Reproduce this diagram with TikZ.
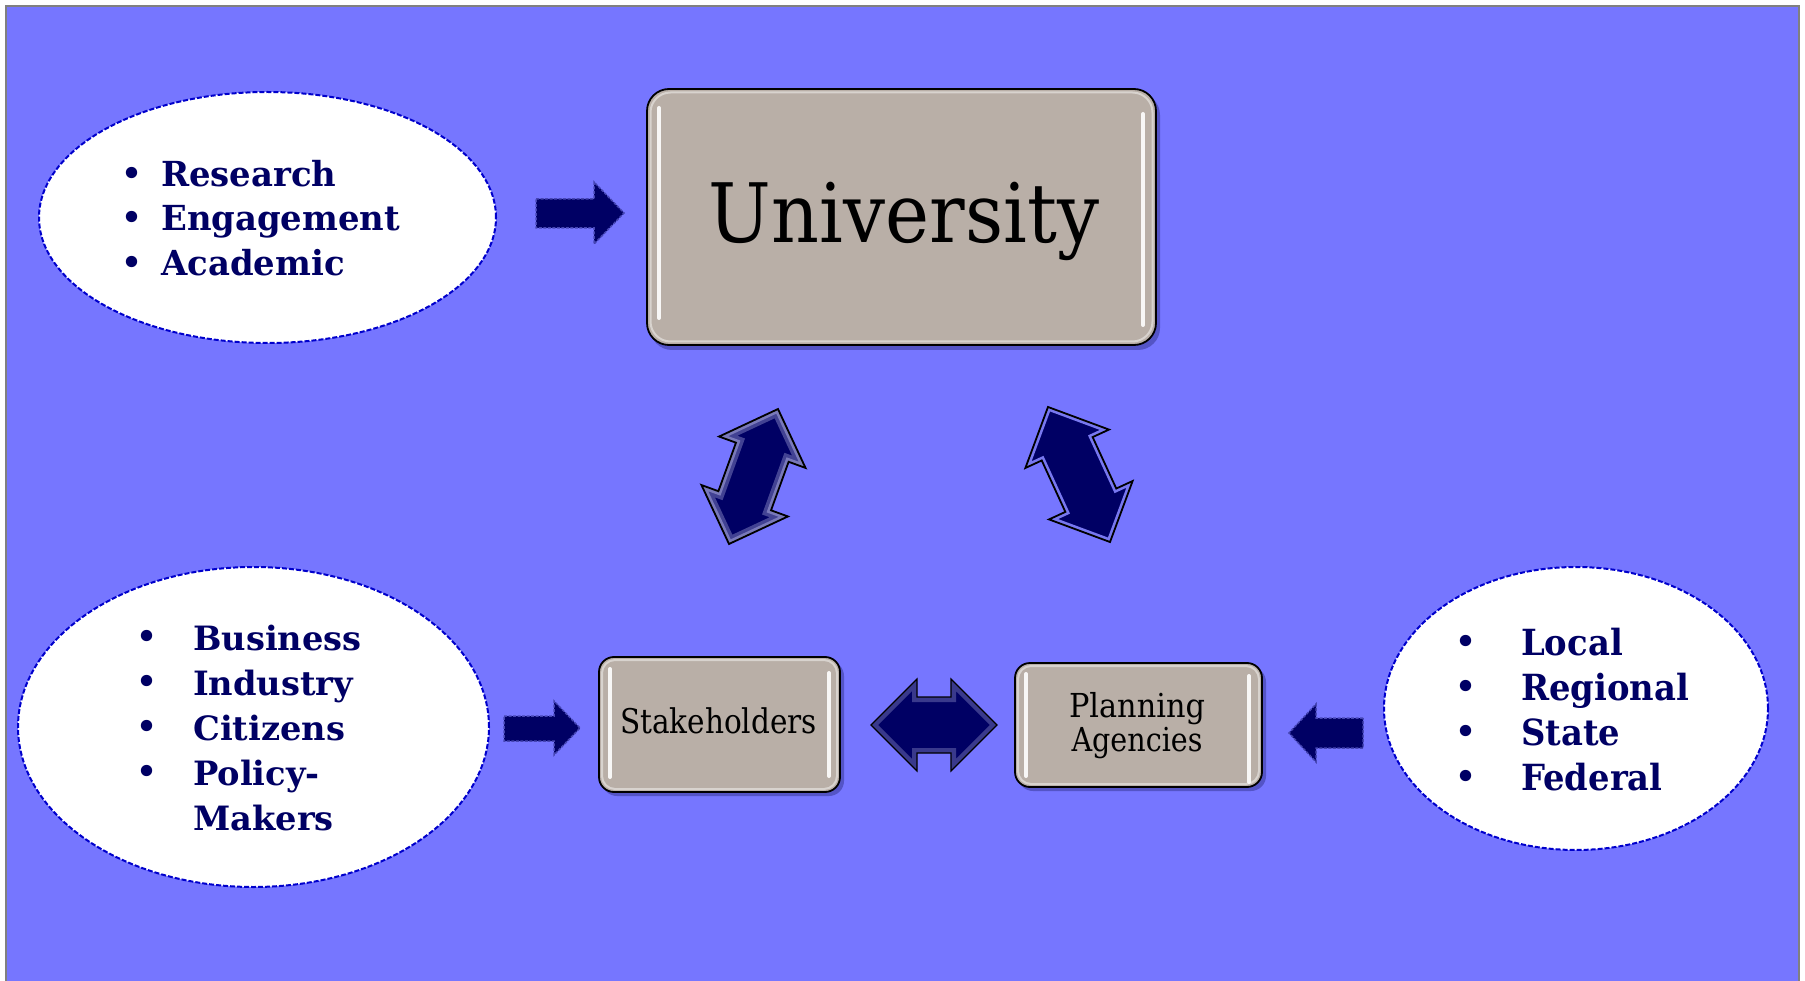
\documentclass[tikz,border=0pt]{standalone}
\usepackage{fontspec}
\setmainfont{DejaVu Serif}
\usetikzlibrary{shapes.geometric}
\definecolor{bgblue}{RGB}{118,118,255}
\definecolor{navytxt}{RGB}{0,0,100}
\definecolor{navyfill}{RGB}{0,0,100}
\definecolor{boxfill}{RGB}{185,175,167}
\definecolor{ellline}{RGB}{0,0,204}
\definecolor{shadowc}{RGB}{70,70,175}
\definecolor{dashline}{RGB}{70,70,180}
\definecolor{glowa}{RGB}{190,190,235}
\definecolor{glowb}{RGB}{120,120,240}
\newlength\wtmp
\newcommand{\dblpath}[1]{(-#1,0) -- (-#1+46,46) -- (-#1+46,28) -- (#1-46,28) -- (#1-46,46) -- (#1,0) -- (#1-46,-46) -- (#1-46,-28) -- (-#1+46,-28) -- (-#1+46,-46) -- cycle}
\tikzset{
  ell/.style={ellipse, fill=white, draw=ellline, line width=2pt, dash pattern=on 5pt off 2pt, inner sep=0pt},
  gbox/.style={rectangle, fill=boxfill, draw=black, line width=1.8pt, inner sep=0pt},
  hl/.style={white, line width=4pt, line cap=round, opacity=.9},
  rim/.style={white, line width=2pt, opacity=.45},
  shad/.style={fill=shadowc, opacity=.7},
  blockarr/.style={fill=navyfill, draw=dashline, line width=1.5pt, dash pattern=on 3pt off 1.5pt},
  itemtxt/.style={anchor=base west, inner sep=0pt, text=navytxt, font=\bfseries},
  bul/.style={anchor=center, inner sep=0pt, text=navytxt, font=\fontsize{39}{39}\selectfont},
  boxtxt/.style={anchor=base, inner sep=0pt, text=black}
}
\begin{document}
\settowidth\wtmp{\fontsize{34.5}{40}\selectfont\bfseries Engagement}%
\pgfmathsetmacro\sxA{239/\wtmp}%
\settowidth\wtmp{\fontsize{33.5}{40}\selectfont\bfseries Business}%
\pgfmathsetmacro\sxB{168.5/\wtmp}%
\settowidth\wtmp{\fontsize{36}{40}\selectfont\bfseries Regional}%
\pgfmathsetmacro\sxC{168/\wtmp}%
\begin{tikzpicture}[x=1pt,y=-1pt]
\useasboundingbox (0,0) rectangle (1805,981);
\fill[white] (0,0) rectangle (1805,981);
\fill[bgblue] (6,6) rectangle (1799,990);
\draw[gray, line width=1.5pt] (6,990) -- (6,6) -- (1799,6) -- (1799,990);

% ellipses
\node[ell, minimum width=457pt, minimum height=251pt] (e1) at (267.5,217.5) {};
\node[ell, minimum width=471pt, minimum height=320pt] (e2) at (253.5,727) {};
\node[ell, minimum width=384pt, minimum height=283pt] (e3) at (1576,708.5) {};

% top ellipse items
\foreach \t/\y [count=\i] in {Research/187,Engagement/231,Academic/276}{
  \node[bul] (b1\i) at (132,\y-10) {•};
  \node[itemtxt] (t1\i) at (161,\y) {\fontsize{34.5}{40}\selectfont\scalebox{\sxA}[1]{\t}};
}
% bottom-left items
\foreach \t/\y [count=\i] in {Business/650,Industry/695,Citizens/740,Policy-/785}{
  \node[bul] (b2\i) at (147,\y-10) {•};
  \node[itemtxt] (t2\i) at (193,\y) {\fontsize{33.5}{40}\selectfont\scalebox{\sxB}[1]{\t}};
}
\node[itemtxt] (t25) at (193,830) {\fontsize{33.5}{40}\selectfont\scalebox{\sxB}[1]{Makers}};
% right items
\foreach \t/\y [count=\i] in {Local/655,Regional/700,State/745,Federal/790}{
  \node[bul] (b3\i) at (1466,\y-10) {•};
  \node[itemtxt] (t3\i) at (1521,\y) {\fontsize{36}{40}\selectfont\scalebox{\sxC}[1]{\t}};
}

% boxes with shadows
\fill[shad, rounded corners=22pt] (650,93) rectangle (1160,350);
\node[gbox, rounded corners=22pt, minimum width=509pt, minimum height=256pt] (uni) at (901.5,217) {};
\draw[rim, rounded corners=20pt] (650.5,92.5) rectangle (1152.5,341.5);
\draw[hl] (659,108) -- (659,318);
\draw[hl] (1143,114) -- (1143,325);
\node[boxtxt] (unit) at (904,243) {\fontsize{82}{90}\selectfont\resizebox{390pt}{\height}{University}};

\fill[shad, rounded corners=15pt] (602,661) rectangle (844,796);
\node[gbox, rounded corners=15pt, minimum width=241pt, minimum height=135pt] (stk) at (719.5,724.5) {};
\draw[rim, rounded corners=13pt] (602,660) rectangle (837,789);
\draw[hl] (610,669) -- (610,777);
\draw[hl] (829,673) -- (829,776);
\node[boxtxt] (stkt) at (718.5,733) {\fontsize{34}{40}\selectfont\resizebox{197pt}{\height}{Stakeholders}};

\fill[shad, rounded corners=15pt] (1018,667) rectangle (1266,791);
\node[gbox, rounded corners=15pt, minimum width=247pt, minimum height=124pt] (pla) at (1138.5,725) {};
\draw[rim, rounded corners=13pt] (1018,666) rectangle (1259,784);
\draw[hl] (1026,674) -- (1026,776);
\draw[hl] (1249,676) -- (1249,782);
\node[boxtxt] (plat1) at (1137,717) {\fontsize{33}{40}\selectfont\resizebox{136pt}{\height}{Planning}};
\node[boxtxt] (plat2) at (1137,751) {\fontsize{33}{40}\selectfont\resizebox{131pt}{\height}{Agencies}};

% single block arrows
\path[blockarr] (536,199) -- (594,199) -- (594,182) -- (624,213) -- (594,244) -- (594,228) -- (536,228) -- cycle;
\path[blockarr] (504,716) -- (554,716) -- (554,701) -- (580,728) -- (554,755) -- (554,741) -- (504,741) -- cycle;
\path[blockarr] (1363,718) -- (1316,718) -- (1316,704) -- (1289,733) -- (1316,762) -- (1316,748) -- (1363,748) -- cycle;

% double arrows
\begin{scope}[shift={(753.5,476.5)}, rotate=70.05]
  \fill[navyfill] \dblpath{71.8};
  \begin{scope}
    \clip \dblpath{71.8};
    \draw[glowa, line width=14pt, opacity=.35] \dblpath{71.8};
    \draw[glowa, line width=7pt, opacity=.45] \dblpath{71.8};
  \end{scope}
  \draw[black, line width=1.8pt] \dblpath{71.8};
\end{scope}
\begin{scope}[shift={(1079,474.5)}, rotate=-65.33]
  \fill[navyfill] \dblpath{74.3};
  \begin{scope}
    \clip \dblpath{74.3};
    \draw[glowb, line width=7pt] \dblpath{74.3};
  \end{scope}
  \draw[black, line width=1.8pt] \dblpath{74.3};
\end{scope}
\begin{scope}[shift={(934,725)}]
  \fill[navyfill] \dblpath{63};
  \begin{scope}
    \clip \dblpath{63};
    \draw[glowa, line width=10pt, opacity=.3] \dblpath{63};
  \end{scope}
  \draw[black, line width=1.2pt] \dblpath{63};
\end{scope}
\end{tikzpicture}
\end{document}
